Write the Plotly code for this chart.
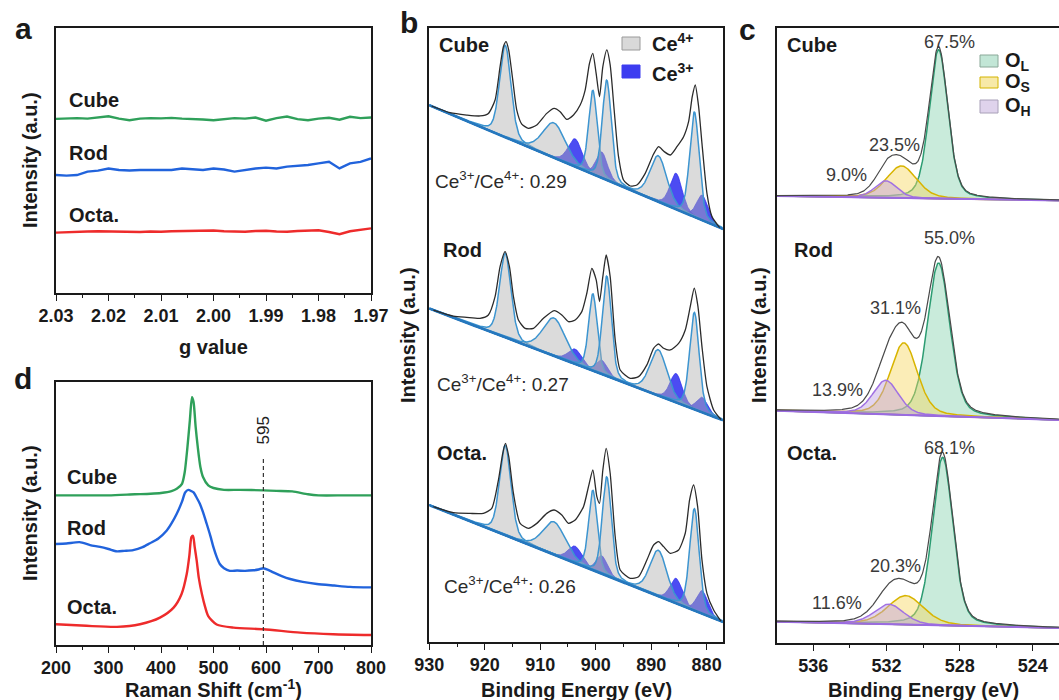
import numpy as np
import plotly.graph_objects as go

W, H = 1059, 700
FONT = "Liberation Sans, Arial, Helvetica, sans-serif"
INK = "#1a1a1a"

GREEN, BLUE, RED = "#2fa05a", "#2163dc", "#ee2b2b"
samples = ["Cube", "Rod", "Octa."]

# ---------------- (a) EPR ----------------
epr_g = [2.030, 2.028, 2.026, 2.024, 2.022, 2.020, 2.018, 2.016, 2.014, 2.012,
         2.010, 2.008, 2.006, 2.004, 2.002, 2.000, 1.998, 1.996, 1.994, 1.992,
         1.990, 1.988, 1.986, 1.984, 1.982, 1.980, 1.978, 1.976, 1.974, 1.972, 1.970]
epr_cube = [6.57, 6.59, 6.60, 6.58, 6.62, 6.67, 6.58, 6.52, 6.58, 6.60, 6.59, 6.61, 6.58, 6.57, 6.55,
            6.52, 6.56, 6.60, 6.58, 6.62, 6.50, 6.60, 6.66, 6.56, 6.52, 6.58, 6.61, 6.54, 6.65, 6.60, 6.62]
epr_rod = [4.45, 4.43, 4.45, 4.58, 4.62, 4.70, 4.64, 4.62, 4.64, 4.64, 4.62, 4.64, 4.70, 4.66, 4.64,
           4.70, 4.66, 4.58, 4.64, 4.70, 4.73, 4.70, 4.77, 4.79, 4.83, 4.89, 4.95, 4.70, 4.89, 4.95, 5.08]
epr_octa = [2.28, 2.30, 2.31, 2.32, 2.33, 2.32, 2.30, 2.29, 2.30, 2.32, 2.31, 2.33, 2.34, 2.33, 2.35,
            2.36, 2.33, 2.32, 2.31, 2.34, 2.35, 2.32, 2.31, 2.34, 2.36, 2.37, 2.30, 2.22, 2.33, 2.38, 2.44]
g_ticks = [2.03, 2.02, 2.01, 2.00, 1.99, 1.98, 1.97]

# ---------------- (d) Raman ----------------
raman_x_cube = [200, 250, 300, 350, 380, 400, 420, 430, 440, 445, 450, 455, 459, 462, 466,
                470, 475, 480, 490, 500, 520, 550, 595, 620, 650, 680, 700, 750, 800]
raman_cube = [5.69, 5.69, 5.69, 5.73, 5.75, 5.78, 5.85, 5.94, 6.13, 6.55, 7.45, 8.55, 9.42, 9.24, 8.29,
              7.53, 6.77, 6.39, 6.07, 5.97, 5.90, 5.90, 5.88, 5.86, 5.84, 5.73, 5.69, 5.69, 5.69]
raman_x_rod = [200, 220, 245, 265, 284, 300, 316, 330, 347, 365, 379, 395, 411, 420, 430,
               440, 446, 452, 458, 462, 468, 474, 480, 487, 494, 500, 506, 512, 520, 531,
               545, 560, 576, 586, 595, 605, 614, 630, 646, 670, 697, 730, 760, 800]
raman_rod = [3.84, 3.86, 3.91, 3.80, 3.73, 3.65, 3.56, 3.58, 3.61, 3.72, 3.87, 4.05, 4.35, 4.62, 4.99,
             5.45, 5.80, 5.90, 5.85, 5.80, 5.60, 5.37, 5.05, 4.61, 4.15, 3.71, 3.35, 3.08, 2.92, 2.82,
             2.83, 2.82, 2.84, 2.87, 2.92, 2.85, 2.76, 2.62, 2.51, 2.40, 2.32, 2.26, 2.21, 2.19]
raman_x_octa = [200, 258, 316, 360, 398, 424, 439, 449, 454, 458, 461, 464, 468, 472, 478,
                484, 490, 506, 538, 595, 665, 728, 800]
raman_octa = [0.79, 0.73, 0.69, 0.79, 1.04, 1.42, 1.93, 2.70, 3.40, 4.10, 4.15, 3.75, 3.21, 2.55, 1.93,
              1.45, 1.10, 0.78, 0.66, 0.60, 0.47, 0.41, 0.38]
raman_band = 595
raman_ticks = [200, 300, 400, 500, 600, 700, 800]

# ---------------- (b) Ce 3d XPS ----------------
# measured spectra: binding energy / counts above the linear background
ce_E_cube = [929.57, 926.26, 923.25, 920.85, 919.34, 918.14, 917.24, 916.64, 916.16, 915.68,
             914.95, 914.23, 913.33, 912.12, 910.62, 908.82, 907.49, 906.41, 905.21, 904.00,
             902.80, 901.90, 901.12, 900.52, 899.92, 899.31, 898.71, 897.99, 897.39, 896.67,
             895.88, 894.98, 893.78, 892.57, 891.07, 889.56, 888.66, 887.64, 886.55, 885.35,
             884.15, 883.25, 882.59, 882.05, 881.44, 880.84, 879.94, 879.04, 877.65]
ce_I_cube = [0.3, 1.3, 6.0, 10.7, 16.8, 33.0, 68.4, 89.8, 96.0, 88.7,
             60.4, 32.1, 20.2, 18.7, 25.6, 41.4, 49.5, 48.7, 43.9, 51.0,
             63.8, 80.9, 109.4, 120.8, 102.2, 80.3, 111.7, 130.1, 116.5, 73.2,
             28.3, 7.1, 3.9, 7.7, 22.9, 45.7, 55.2, 52.6, 51.8, 62.9,
             75.7, 92.8, 119.4, 132.3, 112.0, 76.8, 28.9, 7.7, 0.0]
ce_E_rod = [929.27, 925.66, 923.25, 920.85, 919.35, 918.14, 917.24, 916.34, 915.55, 914.83,
            913.93, 912.73, 911.22, 909.42, 907.49, 906.11, 904.91, 903.70, 902.50, 901.60,
            900.69, 899.91, 899.31, 898.71, 898.11, 897.39, 896.48, 895.58, 893.77, 892.27,
            890.77, 889.56, 888.66, 887.76, 886.55, 885.05, 883.85, 882.95, 882.23, 881.56,
            880.84, 879.94, 878.73, 877.41]
ce_I_rod = [0.0, 1.6, 5.4, 9.5, 16.0, 36.9, 68.8, 85.7, 72.3, 43.9,
            22.4, 16.6, 19.8, 33.6, 45.4, 44.0, 39.8, 44.0, 54.9, 75.2,
            102.1, 92.1, 71.7, 97.9, 120.9, 100.7, 39.3, 11.2, 6.7, 11.5,
            26.4, 45.6, 51.8, 49.4, 50.3, 60.1, 76.0, 101.2, 121.1, 104.2,
            65.7, 27.6, 6.8, 0.0]
ce_E_octa = [929.27, 925.66, 922.65, 920.25, 918.74, 917.54, 916.76, 916.27, 915.67, 914.83,
             913.63, 912.12, 910.62, 908.82, 907.49, 906.11, 904.91, 903.70, 902.20, 901.30,
             900.51, 899.79, 899.31, 898.71, 898.11, 897.39, 896.48, 895.58, 893.77, 892.27,
             890.77, 889.56, 888.66, 887.76, 886.55, 885.05, 883.85, 883.07, 882.35, 881.62,
             880.84, 879.94, 878.73, 877.41]
ce_I_octa = [0.0, 2.0, 7.9, 13.3, 21.6, 52.6, 81.0, 92.0, 80.0, 45.2,
             17.9, 16.2, 24.5, 38.5, 44.8, 42.8, 37.2, 43.2, 59.8, 81.8,
             100.2, 75.1, 69.5, 104.2, 127.2, 103.8, 42.4, 11.1, 6.8, 11.7,
             31.7, 49.4, 54.7, 51.7, 47.7, 54.4, 73.7, 108.8, 125.3, 105.3,
             53.7, 22.3, 8.3, 0.0]
ce_bg_930 = [536.4, 333.2, 136.6]      # background level at 930 eV (stack offset included)
ce_bg_877 = [412.6, 221.3, 19.6]       # background level at 877 eV
ce_ratio = [0.29, 0.27, 0.26]

# fitted components: centre (eV), FWHM (eV), height per sample
ce4_center = [916.3, 907.5, 900.5, 898.0, 888.7, 882.2]
ce4_fwhm = [2.4, 4.8, 1.8, 1.9, 3.6, 2.0]
ce4_height = [[92, 35, 84, 100, 46, 105],
              [84, 38, 77, 100, 46, 97],
              [90, 33, 80, 99, 46, 102]]
ce3_center = [903.7, 898.9, 885.5, 880.8]
ce3_fwhm = [3.0, 2.4, 2.6, 2.4]
ce3_height = [[28, 26, 36, 25],
              [15, 14, 29, 15],
              [17, 18, 25, 23]]
ce_ticks = [930, 920, 910, 900, 890, 880]

# ---------------- (c) O 1s XPS ----------------
o_names = ["O<sub>L</sub>", "O<sub>S</sub>", "O<sub>H</sub>"]
o_center = [[529.15, 531.18, 532.04],
            [529.15, 531.05, 532.04],
            [528.93, 530.95, 531.87]]
o_fwhm = [[1.20, 1.94, 1.40],
          [1.45, 1.74, 1.65],
          [1.33, 2.30, 1.90]]
o_pct = [[67.5, 23.5, 9.0],
         [55.0, 31.1, 13.9],
         [68.1, 20.3, 11.6]]
o_total_area = [322.0, 490.7, 399.1]
o_bg_538 = [447.0, 232.3, 21.3]
o_bg_522 = [442.3, 222.7, 14.8]
o_ticks = [536, 532, 528, 524]

ETA = 0.3  # Lorentzian fraction of the pseudo-Voigt line shape


def pvoigt(x, c, h, w):
    d = (x - c) / (w / 2.0)
    return h * (ETA / (1 + d * d) + (1 - ETA) * np.exp(-np.log(2) * d * d))


def pv_area_factor():
    return ETA * np.pi / 2 + (1 - ETA) * np.sqrt(np.pi / (4 * np.log(2)))


def band(x, lower, upper, fill, line, xa, ya, lw=1.4):
    return go.Scatter(x=np.concatenate([x, x[::-1]]),
                      y=np.concatenate([upper, lower[::-1]]),
                      mode="lines", fill="toself", fillcolor=fill,
                      line=dict(color=line, width=lw),
                      xaxis=xa, yaxis=ya, hoverinfo="skip", showlegend=False)


fig = go.Figure()

# (a) EPR
for vals, col in zip([epr_cube, epr_rod, epr_octa], [GREEN, BLUE, RED]):
    fig.add_trace(go.Scatter(x=epr_g, y=vals, mode="lines", line=dict(color=col, width=2.4),
                             xaxis="x", yaxis="y", showlegend=False))

# (d) Raman
for xs, vals, col in zip([raman_x_cube, raman_x_rod, raman_x_octa],
                         [raman_cube, raman_rod, raman_octa], [GREEN, BLUE, RED]):
    fig.add_trace(go.Scatter(x=xs, y=vals, mode="lines",
                             line=dict(color=col, width=2.4, shape="spline", smoothing=0.7),
                             xaxis="x4", yaxis="y4", showlegend=False))

# (b) Ce 3d
E = np.linspace(930, 877.0, 900)
for i in range(3):
    bg = ce_bg_930[i] + (ce_bg_877[i] - ce_bg_930[i]) * (930 - E) / 53.0
    for c, w, h in zip(ce3_center, ce3_fwhm, ce3_height[i]):
        fig.add_trace(band(E, bg, bg + pvoigt(E, c, h, w), "rgba(45,45,240,0.85)",
                           "rgba(45,45,240,0.9)", "x2", "y2", lw=0.8))
    for c, w, h in zip(ce4_center, ce4_fwhm, ce4_height[i]):
        fig.add_trace(band(E, bg, bg + pvoigt(E, c, h, w), "rgba(175,175,175,0.45)",
                           "#3d95d0", "x2", "y2", lw=1.5))
    fig.add_trace(go.Scatter(x=E, y=bg, mode="lines", line=dict(color="#2677bd", width=2.6),
                             xaxis="x2", yaxis="y2", showlegend=False))
    eE = np.array([ce_E_cube, ce_E_rod, ce_E_octa][i])
    eI = np.array([ce_I_cube, ce_I_rod, ce_I_octa][i])
    ebg = ce_bg_930[i] + (ce_bg_877[i] - ce_bg_930[i]) * (930 - eE) / 53.0
    fig.add_trace(go.Scatter(x=eE, y=ebg + eI, mode="lines",
                             line=dict(color="#2b2b2b", width=1.3, shape="spline", smoothing=0.6),
                             xaxis="x2", yaxis="y2", showlegend=False))

# (c) O 1s
Eo = np.linspace(538, 522, 700)
o_fill = ["rgba(120,205,165,0.40)", "rgba(246,214,95,0.45)", "rgba(190,160,222,0.45)"]
o_line = ["#2c9c72", "#d8b400", "#a171e2"]
kA = pv_area_factor()
for i in range(3):
    bg = o_bg_538[i] + (o_bg_522[i] - o_bg_538[i]) * (538 - Eo) / 16.0
    total = np.zeros_like(Eo)
    for j in range(3):
        area = o_total_area[i] * o_pct[i][j] / 100.0
        h = area / (o_fwhm[i][j] * kA)
        comp = pvoigt(Eo, o_center[i][j], h, o_fwhm[i][j])
        total += comp
        fig.add_trace(band(Eo, bg, bg + comp, o_fill[j], o_line[j], "x3", "y3", lw=1.5))
    fig.add_trace(go.Scatter(x=Eo, y=bg, mode="lines", line=dict(color="#9a6be0", width=2.0),
                             xaxis="x3", yaxis="y3", showlegend=False))
    fig.add_trace(go.Scatter(x=Eo, y=bg + total, mode="lines", line=dict(color="#4a4a4a", width=1.2),
                             xaxis="x3", yaxis="y3", showlegend=False))


# ---------------- axes ----------------
def dom_x(l, r):
    return [l / W, min(r / W, 1.0)]


def dom_y(top, bottom):
    return [1 - bottom / H, 1 - top / H]


def xcfg(domain, rng, ticks, fmt, minor, anchor):
    return dict(domain=domain, range=rng, anchor=anchor, showline=True, linecolor=INK,
                linewidth=1.6, mirror=True, ticks="outside", ticklen=6, tickwidth=1.4,
                tickcolor=INK, tickmode="array", tickvals=ticks,
                ticktext=[f"<b>{fmt.format(t)}</b>" for t in ticks],
                tickfont=dict(family=FONT, size=18, color=INK),
                showgrid=False, zeroline=False, automargin=False,
                minor=dict(tickmode="array", tickvals=minor, ticks="outside", ticklen=3,
                           tickwidth=1.2, tickcolor=INK, showgrid=False))


def ycfg(domain, rng, anchor, mirror=True):
    return dict(domain=domain, range=rng, anchor=anchor, showline=True, linecolor=INK,
                linewidth=1.6, mirror=mirror, ticks="", showticklabels=False,
                showgrid=False, zeroline=False, automargin=False)


fig.update_layout(
    width=W, height=H, autosize=False,
    margin=dict(l=0, r=0, t=0, b=0, pad=0, autoexpand=False),
    paper_bgcolor="white", plot_bgcolor="white",
    xaxis=xcfg(dom_x(56, 371), [2.03, 1.97], g_ticks, "{:.2f}",
               [2.025, 2.015, 2.005, 1.995, 1.985, 1.975], "y"),
    yaxis=ycfg(dom_y(28, 293), [0, 10], "x"),
    xaxis2=xcfg(dom_x(429.3, 722.7), [930, 877.1], ce_ticks, "{:d}",
                [925, 915, 905, 895, 885], "y2"),
    yaxis2=ycfg(dom_y(28, 641.7), [0, 613.7], "x2"),
    xaxis3=xcfg(dom_x(776.7, 1059), [538, 522.57], o_ticks, "{:d}", [534, 530, 526], "y3"),
    yaxis3=ycfg(dom_y(28, 643), [0, 615], "x3", mirror=False),
    xaxis4=xcfg(dom_x(56, 371), [200, 800], raman_ticks, "{:d}",
                [250, 350, 450, 550, 650, 750], "y4"),
    yaxis4=ycfg(dom_y(382, 645), [0, 10], "x4"),
)

# dashed marker at the defect band
fig.add_shape(type="line", xref="x4", yref="y4", x0=raman_band, x1=raman_band, y0=0, y1=7.15,
              line=dict(color="#333333", width=1.2, dash="4px,3px"))

# ---------------- text ----------------
ann = []


def text(t, x, y, size=20, bold=True, xanchor="left", yanchor="middle", angle=0, color=INK):
    ann.append(dict(text=f"<b>{t}</b>" if bold else t, x=x / W, y=1 - y / H,
                    xref="paper", yref="paper", showarrow=False, xanchor=xanchor,
                    yanchor=yanchor, textangle=angle,
                    font=dict(family=FONT, size=size, color=color)))


# panel letters
text("a", 23, 28, size=30, xanchor="center")
text("b", 409, 22, size=30, xanchor="center")
text("c", 747, 30, size=30, xanchor="center")
text("d", 23, 378, size=30, xanchor="center")

# axis titles
for x, y in [(30, 160), (30, 513), (408, 335), (759, 335)]:
    text("Intensity (a.u.)", x, y, size=20, xanchor="center", angle=-90)
text("g value", 213, 347, xanchor="center")
text("Raman Shift (cm<sup>-1</sup>)", 213, 688, xanchor="center")
text("Binding Energy (eV)", 576, 690, xanchor="center")
text("Binding Energy (eV)", 923, 690, xanchor="center")

# sample names
for name, y in zip(samples, [100, 153, 215]):
    text(name, 67, y)
for name, y in zip(samples, [477, 528, 607]):
    text(name, 65, y)
for name, (x, y) in zip(samples, [(437, 45), (441, 250), (435, 453)]):
    text(name, x, y)
for name, (x, y) in zip(samples, [(785, 45), (792, 250), (785, 453)]):
    text(name, x, y)

# Ce3+/Ce4+ ratios
for r, (x, y) in zip(ce_ratio, [(433, 180), (435, 383), (442, 585)]):
    text(f"Ce<sup>3+</sup>/Ce<sup>4+</sup>: {r:.2f}", x, y, size=19, bold=False, color="#2a2a2a")

# O 1s component fractions
pct_pos = [[(949, 42), (894, 145), (846, 175)],
           [(949, 238), (895, 308), (837, 390)],
           [(949, 448), (895, 566), (837, 603)]]
for i in range(3):
    for j in range(3):
        x, y = pct_pos[i][j]
        text(f"{o_pct[i][j]:.1f}%", x, y, size=18, bold=False, xanchor="center", color="#3a3a3a")

# Raman band label
ann.append(dict(text=str(raman_band), x=raman_band, y=8.17, xref="x4", yref="y4",
                showarrow=False, textangle=-90, xanchor="center", yanchor="middle",
                font=dict(family=FONT, size=17, color="#222222")))

# legend swatches
shapes = []


def swatch(x0, y0, x1, y1, fill, line):
    shapes.append(dict(type="rect", xref="paper", yref="paper", x0=x0 / W, x1=x1 / W,
                       y0=1 - y1 / H, y1=1 - y0 / H, fillcolor=fill, line=dict(color=line, width=1)))


swatch(622, 37, 640, 50, "#d9d9d9", "#9a9a9a")
swatch(622, 65, 640, 78, "#3c3cf0", "#3c3cf0")
text("Ce<sup>4+</sup>", 650, 43)
text("Ce<sup>3+</sup>", 650, 72)

swatch(980, 55, 998, 67, "#c2e6d6", "#8aa898")
swatch(980, 77, 998, 88, "#f7e9a8", "#d4b400")
swatch(980, 100, 998, 113, "#dfd3ec", "#a8a0b8")
for name, y in zip(o_names, [61, 83, 107]):
    text(name, 1003, y)

for s in shapes:
    fig.add_shape(**s)
fig.update_layout(annotations=ann)

fig.write_html("out.html")
